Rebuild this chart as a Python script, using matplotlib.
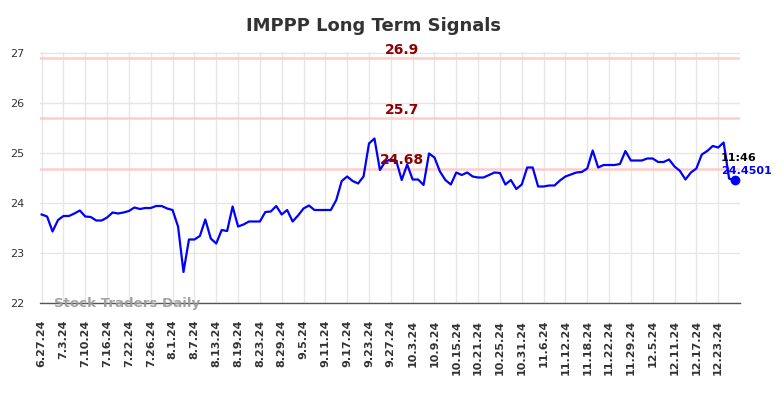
import matplotlib
matplotlib.use("Agg")
import matplotlib.pyplot as plt
import numpy as np

# ---------------------- data ----------------------
prices = [23.77, 23.73, 23.43, 23.66, 23.74, 23.74, 23.79, 23.85, 23.73, 23.72,
          23.65, 23.65, 23.71, 23.81, 23.79, 23.81, 23.84, 23.91, 23.88, 23.90,
          23.90, 23.94, 23.94, 23.89, 23.86, 23.53, 22.62, 23.27, 23.27, 23.34,
          23.67, 23.29, 23.19, 23.46, 23.44, 23.93, 23.53, 23.57, 23.63, 23.63,
          23.63, 23.82, 23.83, 23.94, 23.77, 23.86, 23.63, 23.75, 23.89, 23.95,
          23.86, 23.86, 23.86, 23.86, 24.06, 24.44, 24.53, 24.44, 24.39, 24.53,
          25.19, 25.29, 24.66, 24.83, 24.87, 24.84, 24.46, 24.77, 24.47, 24.47,
          24.36, 24.99, 24.91, 24.63, 24.46, 24.37, 24.61, 24.56, 24.61, 24.53,
          24.51, 24.51, 24.56, 24.61, 24.60, 24.37, 24.46, 24.28, 24.37, 24.71,
          24.71, 24.33, 24.33, 24.35, 24.35, 24.45, 24.53, 24.57, 24.61, 24.62,
          24.69, 25.05, 24.71, 24.76, 24.76, 24.76, 24.78, 25.04, 24.85, 24.85,
          24.85, 24.89, 24.89, 24.82, 24.82, 24.87, 24.73, 24.64, 24.47, 24.61,
          24.69, 24.97, 25.04, 25.14, 25.11, 25.21, 24.49, 24.4501]

tick_labels = ["6.27.24", "7.3.24", "7.10.24", "7.16.24", "7.22.24", "7.26.24",
               "8.1.24", "8.7.24", "8.13.24", "8.19.24", "8.23.24", "8.29.24",
               "9.5.24", "9.11.24", "9.17.24", "9.23.24", "9.27.24", "10.3.24",
               "10.9.24", "10.15.24", "10.21.24", "10.25.24", "10.31.24", "11.6.24",
               "11.12.24", "11.18.24", "11.22.24", "11.29.24", "12.5.24", "12.11.24",
               "12.17.24", "12.23.24"]
tick_step = 4

signal_levels = [26.9, 25.7, 24.68]
signal_texts = ["26.9", "25.7", "24.68"]
last_time = "11:46"
# --------------------------------------------------

x = np.arange(len(prices))

fig = plt.figure(figsize=(7.84, 3.98), dpi=100)
ax = fig.add_axes([40 / 784, 1 - 303 / 398, 700 / 784, 251 / 398])

ax.set_xlim(-0.3, len(prices) + 0.0)
ax.set_ylim(22, 27.02)

ax.set_xticks(np.arange(len(tick_labels)) * tick_step)
ax.set_xticklabels(tick_labels, rotation=90, fontsize=8, fontweight="bold", color="#333333")
ax.set_yticks([22, 23, 24, 25, 26, 27])
ax.tick_params(axis="y", length=0, pad=11.5, labelsize=8, labelcolor="#333333")
ax.tick_params(axis="x", length=0, pad=12)
ax.grid(True, color="#e6e6e6", linewidth=1)
ax.set_axisbelow(True)
for s in ["top", "right", "left"]:
    ax.spines[s].set_visible(False)
ax.spines["bottom"].set_color("#555555")
ax.spines["bottom"].set_linewidth(1)

xmid = (len(prices) - 1) * 0.5 + 2.5
for lvl, txt in zip(signal_levels, signal_texts):
    ax.axhline(lvl, color="#ffcccc", linewidth=1.8, zorder=1)
    ax.text(xmid, lvl + 0.03, txt, color="#8b0000", fontsize=10, fontweight="bold",
            ha="center", va="bottom", zorder=4)

ax.plot(x, prices, color="#0000ff", linewidth=1.6, zorder=3)
ax.plot(x[-1], prices[-1], "o", color="#0000ff", markersize=6, zorder=5)

ax.text(x[-1] - 2.5, prices[-1] + 0.45, last_time, color="black", fontsize=8,
        fontweight="bold", ha="left", va="center")
ax.text(x[-1] - 2.5, prices[-1] + 0.19, "%.4f" % prices[-1], color="#0000ff", fontsize=8,
        fontweight="bold", ha="left", va="center")

ax.text(2.3, 22.0, "Stock Traders Daily", color="#999999", fontsize=9.6,
        fontweight="bold", ha="left", va="center", alpha=0.9)

fig.text(374 / 784, 1 - 26 / 398, "IMPPP Long Term Signals", fontsize=13,
         fontweight="bold", color="#333333", ha="center", va="center")

plt.savefig("out.png", dpi=100)
